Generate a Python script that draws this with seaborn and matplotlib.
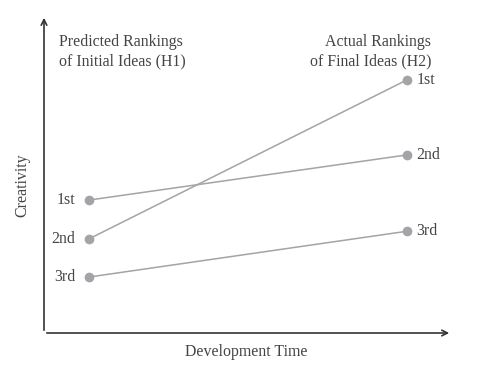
import pandas as pd
import matplotlib.pyplot as plt
import seaborn as sns

# ranking data (creativity in arbitrary units)
ideas = ['A', 'B', 'C']
initial_rank = ['1st', '2nd', '3rd']
final_rank = ['2nd', '1st', '3rd']
initial_creativity = [4.18, 2.96, 1.76]
final_creativity = [5.60, 7.96, 3.20]
stages = [0, 1]

rows = []
for i, idea in enumerate(ideas):
    rows.append({'idea': idea, 'time': stages[0], 'creativity': initial_creativity[i]})
    rows.append({'idea': idea, 'time': stages[1], 'creativity': final_creativity[i]})
df = pd.DataFrame(rows)

sns.set_style('white')
plt.rcParams['font.family'] = ['Liberation Serif', 'DejaVu Serif']
text_color = '#444444'
gray = '#a3a3a8'
fs = 11.4

fig = plt.figure(figsize=(4.84, 3.71), dpi=100)
ax = fig.add_axes([44 / 484, 38 / 371, 408 / 484, 318 / 371])

sns.lineplot(data=df, x='time', y='creativity', units='idea', estimator=None,
             color=gray, linewidth=1.1, marker='o', markersize=7,
             markeredgewidth=0, ax=ax)

ax.set_xlim(-0.1415, 1.1415)
ax.set_ylim(0, 10)
ax.set_xticks([])
ax.set_yticks([])
for s in ax.spines.values():
    s.set_visible(False)
ax.set_xlabel('')
ax.set_ylabel('')

# axis arrows
arrow = dict(arrowstyle='->', color='#333333', lw=1.2, mutation_scale=10)
ax.annotate('', xy=(0, 1.0), xytext=(0, 0), xycoords='axes fraction', arrowprops=arrow)
ax.annotate('', xy=(1.0, 0), xytext=(0, 0), xycoords='axes fraction', arrowprops=arrow)

# rank labels
for r, y in zip(initial_rank, initial_creativity):
    ax.annotate(r, (stages[0], y), xytext=(-10, 0), textcoords='offset points',
                ha='right', va='center', fontsize=fs, color=text_color)
for r, y in zip(final_rank, final_creativity):
    ax.annotate(r, (stages[1], y), xytext=(7, 0), textcoords='offset points',
                ha='left', va='center', fontsize=fs, color=text_color)

fig.text(59 / 484, 1 - 34 / 371, 'Predicted Rankings\nof Initial Ideas (H1)',
         ha='left', va='top', fontsize=fs, color=text_color, linespacing=1.3)
fig.text(431 / 484, 1 - 34 / 371, 'Actual Rankings\nof Final Ideas (H2)',
         ha='right', va='top', fontsize=fs, color=text_color, linespacing=1.3)

fig.text(246 / 484, 1 - 352 / 371, 'Development Time', ha='center', va='center',
         fontsize=fs, color=text_color)
fig.text(22 / 484, 1 - 185 / 371, 'Creativity', ha='center', va='center',
         rotation=90, fontsize=fs, color=text_color)

fig.savefig('out.png', dpi=100)
